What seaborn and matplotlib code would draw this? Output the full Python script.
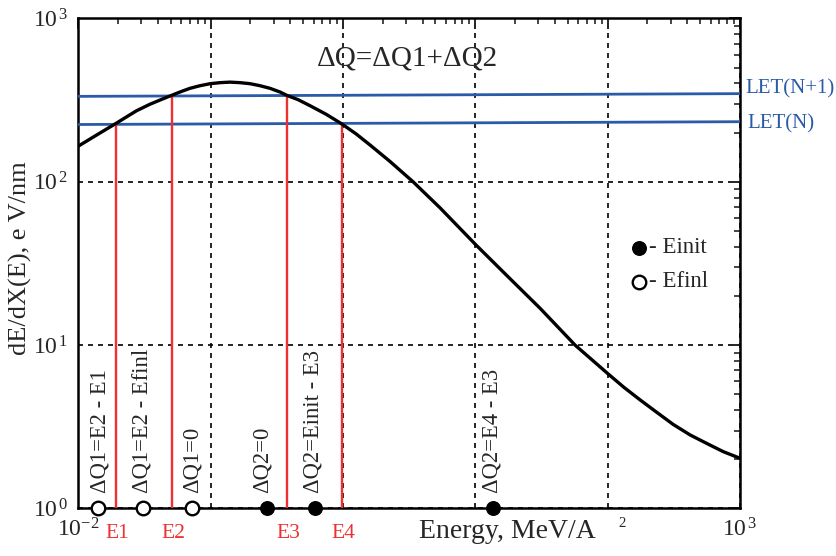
import matplotlib
matplotlib.use("Agg")
import matplotlib.pyplot as plt
import seaborn as sns
import pandas as pd

# stopping power curve
curve_energy = [0.0100, 0.0136, 0.0192, 0.0229, 0.0276, 0.0348, 0.0422, 0.0508, 0.0597, 0.0699,
                0.0832, 0.0990, 0.118, 0.140, 0.167, 0.199, 0.236, 0.281, 0.335, 0.376,
                0.458, 0.564, 0.745, 0.980, 1.26, 1.60, 2.27, 3.39, 5.42, 10.1,
                17.7, 30.9, 56.8, 101, 133, 176, 233, 313, 420, 562, 746, 1000]
curve_let = [165, 192, 227, 248, 272, 298, 318, 338, 356, 373,
             387, 398, 404, 407, 404, 398, 387, 373, 354, 338,
             318, 292, 259, 226, 196, 168, 133, 99.9, 69.2, 41.1,
             26.2, 16.8, 10.0, 6.66, 5.51, 4.62, 3.90, 3.27, 2.82, 2.50, 2.23, 2.03]

# LET thresholds (slightly tilted lines)
let_x = [0.01, 1000]
let_n = [224, 233]
let_n1 = [333, 346]

# crossing energies
e_names = ["E1", "E2", "E3", "E4"]
e_vals = [0.0192, 0.0511, 0.376, 0.979]
e_tops = [226, 337, 337, 226]

# markers on the energy axis
efinl_x = [0.0142, 0.0310, 0.0720]
einit_x = [0.2655, 0.615, 13.55]

# vertical notes
note_text = ["ΔQ1=E2 - E1", "ΔQ1=E2 - Efinl", "ΔQ1=0", "ΔQ2=0", "ΔQ2=Einit - E3", "ΔQ2=E4 - E3"]
note_x = [0.01459, 0.0301, 0.0720, 0.2433, 0.5974, 13.33]

sns.set_style("white")
plt.rcParams["font.family"] = ["Liberation Serif", "DejaVu Serif"]
plt.rcParams["mathtext.fontset"] = "custom"
plt.rcParams["mathtext.rm"] = "Liberation Serif"
plt.rcParams["mathtext.it"] = "Liberation Serif:italic"

BLUE = "#2a5aa8"
RED = "#ee3030"

fig = plt.figure(figsize=(8.37, 5.56), dpi=100)
ax = fig.add_axes([0.0935, 0.0855, 0.7905, 0.8815])
ax.set_xscale("log")
ax.set_yscale("log")
ax.set_xlim(1e-2, 1e3)
ax.set_ylim(1, 1e3)

ax.grid(which="major", color="black", ls=(0, (3, 3)), lw=1.2)
ax.set_axisbelow(True)

curve = pd.DataFrame({"energy": curve_energy, "let": curve_let})
sns.lineplot(data=curve, x="energy", y="let", color="black", lw=2.4,
             estimator=None, sort=False, ax=ax, zorder=4,
             solid_joinstyle="round", solid_capstyle="round")

sns.lineplot(x=let_x, y=let_n1, color=BLUE, lw=2.0, ax=ax, zorder=3)
sns.lineplot(x=let_x, y=let_n, color=BLUE, lw=2.0, ax=ax, zorder=3)

ax.vlines(e_vals, 1, e_tops, color=RED, lw=1.7, zorder=3)
for name, xv in zip(e_names, e_vals):
    ax.annotate(name, xy=(xv, 0), xycoords=("data", "axes fraction"),
                xytext=(1, -11), textcoords="offset points",
                ha="center", va="top", color=RED, fontsize=15.5)

sns.scatterplot(x=efinl_x, y=[1] * len(efinl_x), s=95, color="white",
                edgecolor="black", linewidth=1.7, clip_on=False, zorder=6, ax=ax)
sns.scatterplot(x=einit_x, y=[1] * len(einit_x), s=95, color="black",
                edgecolor="black", linewidth=1.0, clip_on=False, zorder=6, ax=ax)

for txt, xv in zip(note_text, note_x):
    ax.annotate(txt, xy=(xv, 0.032), xycoords=("data", "axes fraction"),
                rotation=90, ha="center", va="bottom", fontsize=16.3)

ax.text(0.498, 0.919, "ΔQ=ΔQ1+ΔQ2", transform=ax.transAxes,
        ha="center", va="center", fontsize=21)

ax.text(1.008, 0.856, "LET(N+1)", transform=ax.transAxes, color=BLUE,
        ha="left", va="center", fontsize=15)
ax.text(1.011, 0.785, "LET(N)", transform=ax.transAxes, color=BLUE,
        ha="left", va="center", fontsize=15)

# legend drawn by hand
ax.scatter([0.847], [0.532], s=95, color="black", transform=ax.transAxes, zorder=6)
ax.scatter([0.847], [0.463], s=95, color="white", edgecolor="black",
           linewidth=1.7, transform=ax.transAxes, zorder=6)
ax.text(0.862, 0.532, "- Einit", transform=ax.transAxes, ha="left", va="center", fontsize=16.5)
ax.text(0.862, 0.463, "- Efinl", transform=ax.transAxes, ha="left", va="center", fontsize=16.5)

ax.set_xticks([1e-2, 1e-1, 1e0, 1e1, 1e2, 1e3])
ax.set_xticklabels([r"$10^{-2}$", "", "", "", "", r"$10^{\,3}$"])
ax.set_yticks([1e0, 1e1, 1e2, 1e3])
ax.set_yticklabels([r"$10^{\,0}$", r"$10^{\,1}$", r"$10^{\,2}$", r"$10^{\,3}$"])
ax.annotate("2", xy=(100, 0), xycoords=("data", "axes fraction"),
            xytext=(8, -6), textcoords="offset points", ha="left", va="top", fontsize=10.5)

ax.tick_params(which="both", direction="in", top=True, right=True, labelsize=17)
ax.tick_params(which="major", length=8, width=1.4, pad=7)
ax.tick_params(which="minor", length=4.5, width=1.2)
for sp in ax.spines.values():
    sp.set_linewidth(1.8)
    sp.set_color("black")

ax.set_xlabel("Energy, MeV/A", fontsize=20)
ax.xaxis.set_label_coords(0.648, -0.022)
ax.set_ylabel("dE/dX(E), e V/nm", fontsize=19)
ax.yaxis.set_label_coords(-0.070, 0.51)

fig.savefig("out.png", dpi=100)
